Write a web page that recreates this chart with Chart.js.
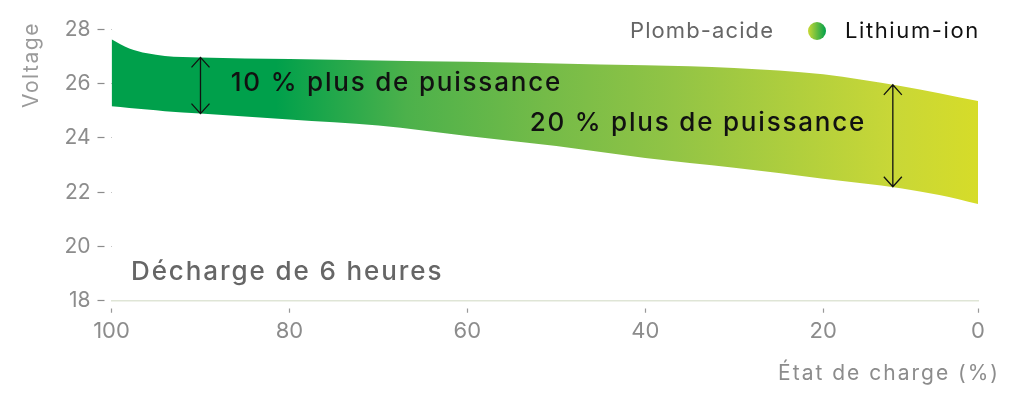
<!DOCTYPE html>
<html>
<head>
<meta charset="utf-8">
<script src="https://cdn.jsdelivr.net/npm/chart.js@4.4.1/dist/chart.umd.min.js"></script>
<style>
  html, body { margin: 0; background: #fff; }
  #wrap { width: 1024px; height: 405px; }
</style>
</head>
<body>
<div id="wrap"><canvas id="voltage-chart"></canvas></div>
<script>
// state of charge (%) and the two voltage curves
const socPoints = [100, 98, 96, 94, 90, 80, 70, 60, 50, 40, 30, 20, 15, 10, 5, 0];
const lithiumVolts = [27.64, 27.3, 27.12, 27.02, 26.97, 26.91, 26.86, 26.81, 26.75, 26.68, 26.58, 26.35, 26.15, 25.92, 25.65, 25.36];
const leadAcidVolts = [25.17, 25.11, 25.05, 24.99, 24.9, 24.68, 24.46, 24.07, 23.7, 23.26, 22.9, 22.5, 22.33, 22.15, 21.9, 21.57];

const xTicks = [100, 80, 60, 40, 20, 0];
const yTicks = [18, 20, 22, 24, 26, 28];

// the double arrows between the curves
const arrowSoc = [90, 11];
const arrowTop = [26.97, 25.96];
const arrowBottom = [24.9, 22.2];

const seriesNames = ["Plomb-acide", "Lithium-ion"];
const notes = ["10 % plus de puissance", "20 % plus de puissance"];
const subtitle = "Décharge de 6 heures";

const FONT = "Inter, 'Noto Sans', sans-serif";

// x axis in the original is not evenly spaced: the last 20 % is squeezed
const tickFractions = [0, 0.2054, 0.4107, 0.616, 0.8213, 1];

function socFraction(v) {
    for (let i = 0; i < xTicks.length - 1; i++) {
        const a = xTicks[i], b = xTicks[i + 1];
        if (v <= a && v >= b) {
            return tickFractions[i] + ((a - v) / (a - b)) * (tickFractions[i + 1] - tickFractions[i]);
        }
    }
    return v > xTicks[0] ? 0 : 1;
}

class SocScale extends Chart.LinearScale {
    getPixelForValue(value) {
        return this.left + socFraction(value) * (this.right - this.left);
    }
    getValueForPixel(pixel) {
        const f = (pixel - this.left) / (this.right - this.left);
        for (let i = 0; i < xTicks.length - 1; i++) {
            if (f >= tickFractions[i] && f <= tickFractions[i + 1]) {
                const t = (f - tickFractions[i]) / (tickFractions[i + 1] - tickFractions[i]);
                return xTicks[i] + t * (xTicks[i + 1] - xTicks[i]);
            }
        }
        return null;
    }
}
SocScale.id = "soc";
SocScale.defaults = Chart.LinearScale.defaults;
Chart.register(SocScale);

function bandGradient(ctx) {
    const area = ctx.chart.chartArea;
    if (!area) return "#00a04b";
    const g = ctx.chart.ctx.createLinearGradient(area.left, 0, area.right, 0);
    g.addColorStop(0, "#00a04b");
    g.addColorStop(0.19, "#00a04b");
    g.addColorStop(0.34, "#4cb14b");
    g.addColorStop(0.5, "#74bb48");
    g.addColorStop(0.65, "#92c445");
    g.addColorStop(0.9, "#c8d737");
    g.addColorStop(1, "#d6dc29");
    return g;
}

const overlay = {
    id: "overlay",
    afterDraw(chart) {
        const ctx = chart.ctx;
        const x = chart.scales.x;
        const y = chart.scales.y;
        ctx.save();

        // arrows
        ctx.strokeStyle = "#111";
        ctx.lineWidth = 1.3;
        arrowSoc.forEach((s, i) => {
            const px = x.getPixelForValue(s);
            const top = y.getPixelForValue(arrowTop[i]);
            const bot = y.getPixelForValue(arrowBottom[i]);
            ctx.beginPath();
            ctx.moveTo(px, top);
            ctx.lineTo(px, bot);
            ctx.moveTo(px - 9, top + 10);
            ctx.lineTo(px, top);
            ctx.lineTo(px + 9, top + 10);
            ctx.moveTo(px - 9, bot - 10);
            ctx.lineTo(px, bot);
            ctx.lineTo(px + 9, bot - 10);
            ctx.stroke();
        });

        // notes on the band
        ctx.fillStyle = "#111";
        ctx.font = "500 26px " + FONT;
        ctx.letterSpacing = "1.8px";
        ctx.textBaseline = "middle";
        ctx.textAlign = "left";
        ctx.fillText(notes[0], x.getPixelForValue(86.6), y.getPixelForValue(26.02));
        ctx.fillText(notes[1], x.getPixelForValue(53), y.getPixelForValue(24.55));

        ctx.fillStyle = "#666";
        ctx.font = "500 26px " + FONT;
        ctx.letterSpacing = "1.9px";
        ctx.fillText(subtitle, 131, 272);

        // legend
        ctx.font = "22px " + FONT;
        ctx.letterSpacing = "1.1px";
        ctx.fillStyle = "#666";
        ctx.fillText(seriesNames[0], 630, 31);
        const lg = ctx.createLinearGradient(808, 0, 826, 0);
        lg.addColorStop(0, "#c9d835");
        lg.addColorStop(1, "#00a04b");
        ctx.fillStyle = lg;
        ctx.beginPath();
        ctx.arc(817, 31, 9, 0, Math.PI * 2);
        ctx.fill();
        ctx.fillStyle = "#111";
        ctx.letterSpacing = "1.6px";
        ctx.fillText(seriesNames[1], 845, 31);

        // axis titles
        ctx.fillStyle = "#8c8c8c";
        ctx.font = "21px " + FONT;
        ctx.letterSpacing = "2px";
        ctx.textAlign = "right";
        ctx.fillText("État de charge (%)", 1000, 374);
        ctx.translate(32, 65);
        ctx.rotate(-Math.PI / 2);
        ctx.textAlign = "center";
        ctx.fillStyle = "#9a9a9a";
        ctx.letterSpacing = "1.5px";
        ctx.fillText("Voltage", 0, 0);
        ctx.restore();
    },
};

new Chart(document.getElementById("voltage-chart"), {
    type: "line",
    data: {
        datasets: [
            {
                label: seriesNames[1],
                data: socPoints.map((s, i) => ({ x: s, y: lithiumVolts[i] })),
                borderWidth: 0,
                pointRadius: 0,
                cubicInterpolationMode: "monotone",
                fill: "+1",
                backgroundColor: bandGradient,
            },
            {
                label: seriesNames[0],
                data: socPoints.map((s, i) => ({ x: s, y: leadAcidVolts[i] })),
                borderWidth: 0,
                pointRadius: 0,
                cubicInterpolationMode: "monotone",
                fill: false,
            },
        ],
    },
    options: {
        responsive: true,
        maintainAspectRatio: false,
        animation: false,
        layout: { padding: { top: 29.5, right: 46, left: 0, bottom: 0 } },
        plugins: {
            legend: { display: false },
            tooltip: { enabled: false },
        },
        scales: {
            x: {
                type: "soc",
                min: 0,
                max: 100,
                afterBuildTicks: (scale) => {
                    scale.ticks = xTicks.map((v) => ({ value: v }));
                },
                afterFit: (scale) => {
                    scale.height = 104.3;
                },
                border: { display: true, color: "#dfe5d6", width: 1.5 },
                grid: {
                    drawOnChartArea: false,
                    tickLength: 12,
                    tickBorderDash: [0, 7, 5, 40],
                    tickColor: "#999",
                    tickWidth: 1.2,
                },
                ticks: {
                    color: "#8c8c8c",
                    font: { family: FONT, size: 22 },
                    padding: 5,
                    maxRotation: 0,
                    autoSkip: false,
                },
            },
            y: {
                min: 18,
                max: 28,
                afterBuildTicks: (scale) => {
                    scale.ticks = yTicks.map((v) => ({ value: v }));
                },
                afterFit: (scale) => {
                    scale.width = 111.5;
                },
                border: { display: false },
                grid: {
                    drawOnChartArea: false,
                    tickLength: 14,
                    tickBorderDash: [7, 7],
                    tickColor: "#8c8c8c",
                    tickWidth: 1.2,
                },
                ticks: {
                    color: "#8c8c8c",
                    font: { family: FONT, size: 21 },
                    padding: 7,
                },
            },
        },
    },
    plugins: [overlay],
});
</script>
</body>
</html>
